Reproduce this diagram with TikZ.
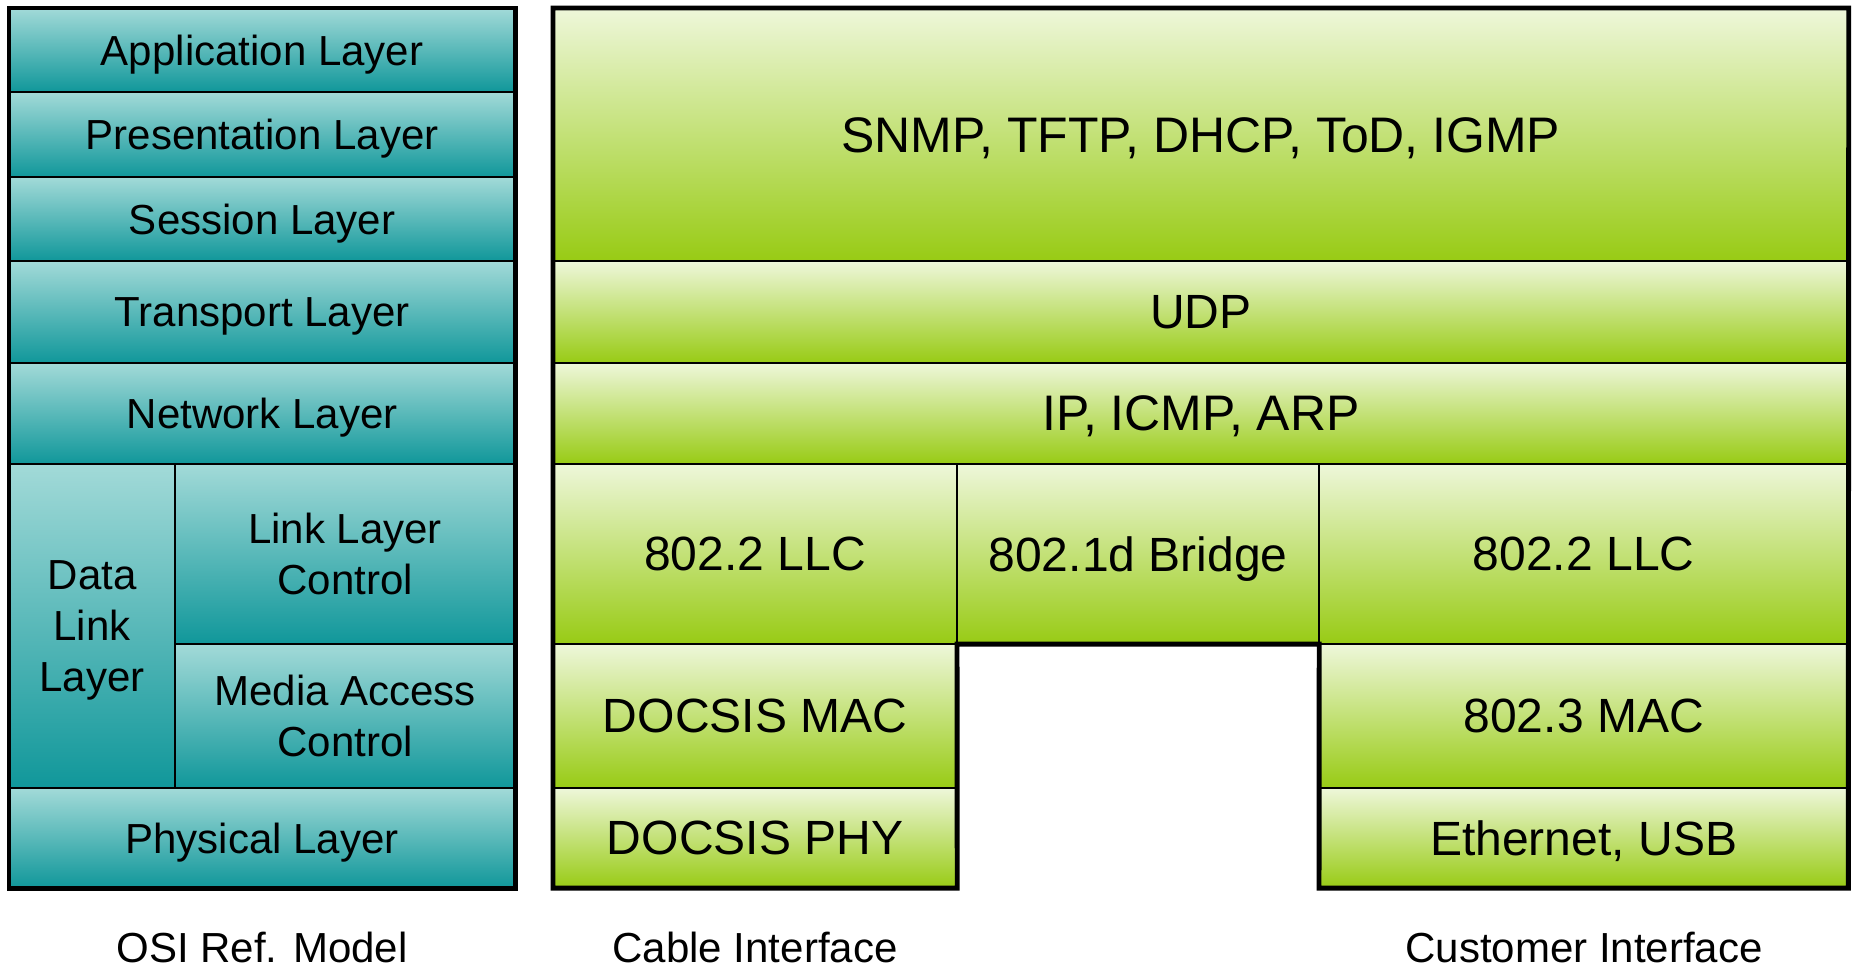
\documentclass[tikz,border=0pt]{standalone}
\usepackage{fontspec}
\setmainfont{Liberation Sans}
\usetikzlibrary{positioning}
\definecolor{osiTop}{HTML}{A2DAD8}
\definecolor{osiBot}{HTML}{10979A}
\definecolor{cmTop}{HTML}{EEF7DA}
\definecolor{cmBot}{HTML}{98CB14}

\begin{document}
\begin{tikzpicture}[
  x=0.01cm,y=-0.01cm,
  osi/.style={draw=black,line width=0.6pt,top color=osiTop,bottom color=osiBot,anchor=north west,
    inner sep=0pt,outer sep=0pt,align=center,text depth=0pt,font=\fontsize{11.95}{14.5}\selectfont},
  modem/.style={draw=black,line width=0.6pt,top color=cmTop,bottom color=cmBot,anchor=north west,
    inner sep=0pt,outer sep=0pt,align=center,text depth=0pt,font=\fontsize{13.66}{16.4}\selectfont},
  big/.style={font=\fontsize{14.2}{17}\selectfont},
  outline/.style={line width=1.4pt,line join=miter},
  caption/.style={anchor=base,font=\fontsize{11.95}{14.2}\selectfont}
]
\useasboundingbox (0,0) rectangle (1852,966);

% OSI reference model
\node[osi,minimum width=5.06cm,minimum height=0.84cm] (app) at (9,8) {Application Layer};
\node[osi,minimum width=5.06cm,minimum height=0.85cm] (pres) at (9,92) {Presentation Layer};
\node[osi,minimum width=5.06cm,minimum height=0.84cm] (sess) at (9,177) {Session Layer};
\node[osi,minimum width=5.06cm,minimum height=1.02cm] (trans) at (9,261) {Transport Layer};
\node[osi,minimum width=5.06cm,minimum height=1.01cm] (net) at (9,363) {Network Layer};
\node[osi,minimum width=1.66cm,minimum height=3.24cm] (dll) at (9,464) {Data\\Link\\Layer};
\node[osi,minimum width=3.40cm,minimum height=1.80cm] (llc) at (175,464) {Link Layer\\Control};
\node[osi,minimum width=3.40cm,minimum height=1.44cm] (mac) at (175,644) {Media Access\\Control};
\node[osi,minimum width=5.06cm,minimum height=1.00cm] (phy) at (9,788) {Physical Layer};
\draw[outline] (app.north west) rectangle (phy.south east);

% cable modem stack
\node[modem,big,minimum width=12.95cm,minimum height=2.53cm] (apps) at (553,8) {SNMP, TFTP, DHCP, ToD, IGMP};
\node[modem,minimum width=12.95cm,minimum height=1.02cm] (udp) at (553,261) {UDP};
\node[modem,big,minimum width=12.95cm,minimum height=1.01cm] (ip) at (553,363) {IP, ICMP, ARP};
\node[modem,minimum width=4.04cm,minimum height=1.80cm] (llcA) at (553,464) {802.2 LLC};
\node[modem,minimum width=3.62cm,minimum height=1.80cm] (bridge) at (957,464) {802.1d Bridge};
\node[modem,minimum width=5.29cm,minimum height=1.80cm] (llcB) at (1319,464) {802.2 LLC};
\node[modem,minimum width=4.04cm,minimum height=1.44cm] (docmac) at (553,644) {DOCSIS MAC};
\node[modem,minimum width=4.04cm,minimum height=1.00cm] (docphy) at (553,788) {DOCSIS PHY};
\node[modem,minimum width=5.29cm,minimum height=1.44cm] (emac) at (1319,644) {802.3 MAC};
\node[modem,minimum width=5.29cm,minimum height=1.00cm] (eth) at (1319,788) {Ethernet, USB};
\draw[outline] (apps.north west) -- (apps.north east) -- (eth.south east) -- (eth.south west)
  -- (bridge.south east) -- (bridge.south west) -- (docphy.south east) -- (docphy.south west) -- cycle;

% captions
\node[caption] (osiCap) at (262,962) {OSI Ref. Model};
\node[caption] (cableCap) at (755,962) {Cable Interface};
\node[caption] (custCap) at (1584,962) {Customer Interface};
\end{tikzpicture}
\end{document}
